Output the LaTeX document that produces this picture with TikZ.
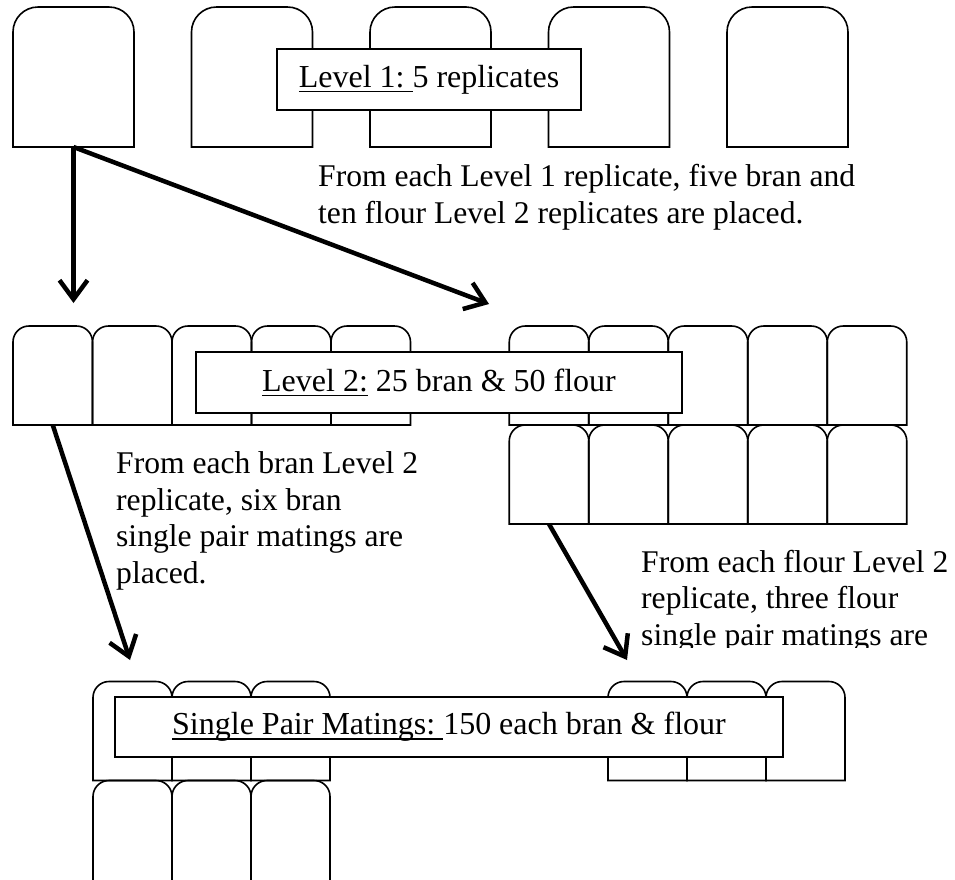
\documentclass[tikz,border=0pt]{standalone}
\usepackage{fontspec}
\setmainfont{Liberation Serif}
\usetikzlibrary{arrows.meta,positioning}

\newsavebox{\undbox}
\newcommand{\undertext}[1]{\sbox{\undbox}{#1}\rlap{\rule[-5pt]{\wd\undbox}{1.6pt}}\usebox{\undbox}}

\tikzset{
  bigjar/.style={minimum width=121pt, minimum height=140pt, inner sep=0pt, outer sep=0pt},
  jar/.style={minimum width=79.5pt, minimum height=99pt, inner sep=0pt, outer sep=0pt},
  jarline/.style={line width=1.6pt},
  titlebox/.style={draw, line width=2pt, fill=white, inner sep=0pt, font=\fontsize{32pt}{36.8pt}\selectfont},
  note/.style={align=left, inner sep=0pt, font=\fontsize{31.6pt}{36.4pt}\selectfont},
  flow/.style={line width=4.5pt, -{Straight Barb[length=19pt,width=28pt]}}
}
% top only rounded outline of a jar node
\newcommand{\jaroutline}[2]{%
  \draw[jarline] (#1.south west) [rounded corners=#2] -- (#1.north west)
    -- (#1.north east) [sharp corners] -- (#1.south east) -- cycle;}

\begin{document}
\begin{tikzpicture}[x=1pt,y=-1pt]
  \useasboundingbox[fill=white] (0,0) rectangle (955,879);

  % Level 1 replicates
  \node (top1) [bigjar] at (73.5,77) {};
  \node (top2) [bigjar, right=57.5pt of top1] {};
  \node (top3) [bigjar, right=57.5pt of top2] {};
  \node (top4) [bigjar, right=57.5pt of top3] {};
  \node (top5) [bigjar, right=57.5pt of top4] {};
  \foreach \n in {top1,top2,top3,top4,top5} {\jaroutline{\n}{25pt}}

  % Level 2: bran (left) and flour (right, two rows)
  \node (bran1) [jar] at (52.75,375.5) {};
  \node (flour1) [jar] at (549,375.5) {};
  \foreach \i [evaluate=\i as \j using int(\i-1)] in {2,...,5} {
    \node (bran\i) [jar, right=0pt of bran\j] {};
    \node (flour\i) [jar, right=0pt of flour\j] {};
  }
  \foreach \i [evaluate=\i as \j using int(\i+5)] in {1,...,5}
    \node (flour\j) [jar, below=0pt of flour\i] {};
  \foreach \i in {1,...,5} {\jaroutline{bran\i}{16pt}}
  \foreach \i in {1,...,10} {\jaroutline{flour\i}{16pt}}

  % Single pair matings
  \node (pairb1) [jar, minimum width=79pt] at (132.5,731) {};
  \node (pairf1) [jar, minimum width=79pt] at (647.5,731) {};
  \foreach \i [evaluate=\i as \j using int(\i-1)] in {2,3} {
    \node (pairb\i) [jar, minimum width=79pt, right=0pt of pairb\j] {};
    \node (pairf\i) [jar, minimum width=79pt, right=0pt of pairf\j] {};
  }
  \foreach \i [evaluate=\i as \j using int(\i+3)] in {1,2,3}
    \node (pairb\j) [jar, minimum width=79pt, minimum height=120pt, below=0pt of pairb\i] {};
  \foreach \n in {pairb1,pairb2,pairb3,pairb4,pairb5,pairb6,pairf1,pairf2,pairf3} {\jaroutline{\n}{16pt}}

  % Arrows between levels
  \coordinate (l2bran) at (73.5,303);
  \coordinate (l2flour) at (489,304);
  \coordinate (spbran) at (130,660);
  \coordinate (spflour) at (627,660);
  \draw[flow] (top1.south) -- (l2bran);
  \draw[flow] (top1.south) -- (l2flour);
  \draw[flow] (bran1.south) -- (spbran);
  \draw[flow] (flour6.south) -- (spflour);

  % Titles
  \node (lvl1) [titlebox, minimum width=304pt, minimum height=61pt] at (429,79.5) {\undertext{Level 1:\ }5 replicates};
  \node (lvl2) [titlebox, minimum width=486pt, minimum height=61pt] at (439,382.5) {\undertext{Level 2:}\ 25 bran \& 50 flour};
  \node (spm) [titlebox, minimum width=668pt, minimum height=60pt] at (449,727) {\undertext{Single Pair Matings:\ }150 each bran \& flour};

  % Notes (anchored at the baseline of the last line)
  \node (note1) [note, anchor=base west] at (318,223) {From each Level 1 replicate, five bran and\\ten flour Level 2 replicates are placed.};
  \node (note2) [note, anchor=base west] at (116,583) {From each bran Level 2\\replicate, six bran\\single pair matings are\\placed.};
  \begin{scope}
    \clip (600,530) rectangle (955,647);
    \node (note3) [note, anchor=base west] at (641,645) {From each flour Level 2\\replicate, three flour\\single pair matings are};
  \end{scope}
\end{tikzpicture}
\end{document}
